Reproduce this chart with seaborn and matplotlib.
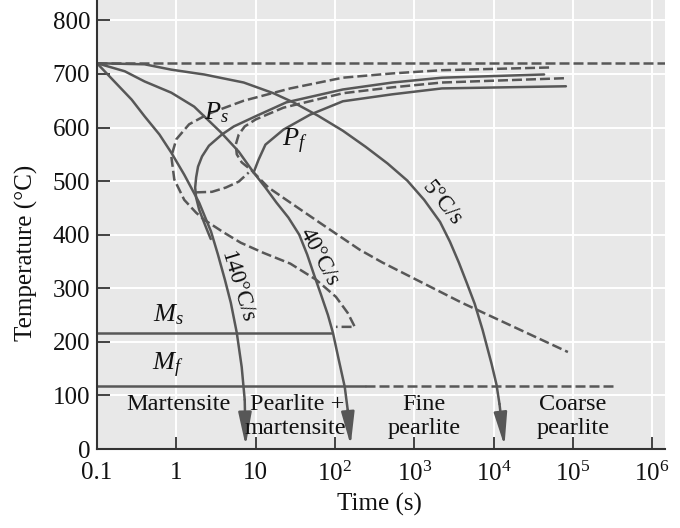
import matplotlib
matplotlib.use("Agg")
import matplotlib.pyplot as plt
import seaborn as sns

# ----------------------------
# values (time in s, temperature in °C)
# ----------------------------
eutectoid_T = 720
ms_T = 217
mf_T = 118
ms_end_t = 90
mf_solid_end_t = 237
mf_dashed_end_t = 344700
x_right = 1.45e6

rate_140_t = [0.1, 0.274, 0.398, 0.613, 0.866, 1.26, 1.94, 2.74, 3.35, 4.10, 4.87, 5.79, 6.68, 7.29, 7.5]
rate_140_T = [720, 652, 621, 587, 553, 512, 460, 406, 363, 316, 273, 217, 153, 92, 6]

rate_40_t = [0.1, 0.224, 0.398, 0.866, 1.68, 3.65, 6.13, 9.44, 13.3, 18.3, 25.9, 35.5,
             44.7, 54.6, 66.8, 81.7, 94.4, 112, 133, 145, 158]
rate_40_T = [720, 705, 686, 665, 639, 591, 555, 516, 488, 460, 432, 400,
             363, 325, 288, 250, 217, 166, 116, 73, 7]

rate_5_t = [0.1, 0.398, 0.866, 2.24, 7.08, 16.8, 29.9, 61.3, 126, 244, 460, 817, 1334,
            2113, 2818, 3652, 4597, 5788, 7286, 9441, 10900, 11885, 13725]
rate_5_T = [720, 718, 708, 699, 684, 664, 647, 622, 594, 564, 533, 501, 465,
            424, 387, 348, 310, 271, 222, 159, 120, 84, 6]

# TTT start (dashed)
ttt_start_t = [50100, 2239, 531, 126, 27.4, 7.08, 2.58, 1.45, 1.0, 0.866, 0.944, 1.26, 1.78,
               2.24, 3.98, 6.49, 12.6, 27.4, 57.9, 103, 145, 178, 103]
ttt_start_T = [712, 707, 701, 693, 673, 650, 626, 606, 578, 546, 503, 465, 441,
               428, 404, 385, 366, 346, 316, 284, 254, 228, 228]

# CCT start (solid)
cct_start_t = [43400, 2239, 531, 126, 24.4, 10, 5.31, 3.76, 2.58, 2.11, 1.88, 1.78, 1.73,
               1.78, 1.94, 2.17, 2.44, 2.72]
cct_start_T = [699, 693, 684, 671, 647, 621, 602, 587, 566, 546, 527, 507, 488,
               469, 447, 428, 409, 392]

# TTT finish (dashed)
ttt_finish_t = [77200, 2239, 531, 126, 22.4, 10, 7.29, 6.13, 5.62, 5.79, 6.68, 8.91,
                14.5, 24.4, 64.9, 205, 398, 3981, 86600]
ttt_finish_T = [692, 684, 675, 664, 637, 615, 602, 587, 568, 550, 535, 520,
                488, 465, 422, 372, 348, 273, 181]

# CCT finish (solid)
cct_finish_t = [81700, 2239, 531, 126, 48.7, 22.4, 13.3, 10.9, 9.44]
cct_finish_T = [677, 673, 662, 649, 624, 596, 568, 540, 516]

# dashed arc under the noses
arc_t = [1.78, 2.82, 4.22, 6.13, 8.18]
arc_T = [479, 480, 488, 499, 516]

x_ticks = [0.1, 1, 10, 100, 1e3, 1e4, 1e5, 1e6]
x_tick_labels = ["0.1", "1", "10", "$10^2$", "$10^3$", "$10^4$", "$10^5$", "$10^6$"]
y_ticks = [0, 100, 200, 300, 400, 500, 600, 700, 800]

# ----------------------------
# style
# ----------------------------
sns.set_theme(style="darkgrid", rc={"axes.facecolor": "#e8e8e8", "grid.color": "white",
                                    "grid.linewidth": 1.4})
plt.rcParams["font.family"] = ["Liberation Serif", "DejaVu Serif"]
plt.rcParams["mathtext.fontset"] = "custom"
plt.rcParams["mathtext.rm"] = "Liberation Serif"
plt.rcParams["mathtext.it"] = "Liberation Serif:italic"
plt.rcParams["mathtext.bf"] = "Liberation Serif:bold"

LC = "#575757"
LW = 1.8
DASH = (0, (4, 1.6))
FS = 17.5

fig = plt.figure(figsize=(6.8, 5.28), dpi=100)
ax = fig.add_axes([0.1426, 0.1496, 0.8353, 0.8504])
ax.set_xscale("log")


def curve(t, T, dashed=False):
    sns.lineplot(x=t, y=T, sort=False, estimator=None, color=LC, lw=LW,
                 linestyle=DASH if dashed else "-", ax=ax)


def arrow_curve(t, T):
    curve(t[:-1], T[:-1])
    ax.annotate("", xy=(t[-1], T[-1]), xytext=(t[-2], T[-2]),
                arrowprops=dict(arrowstyle="-|>,head_length=2.0,head_width=0.4",
                                color=LC, lw=LW, shrinkA=0, shrinkB=0, mutation_scale=10))


# horizontal lines
curve([0.1, x_right], [eutectoid_T, eutectoid_T], dashed=True)
curve([0.1, ms_end_t], [ms_T, ms_T])
curve([0.1, mf_solid_end_t], [mf_T, mf_T])
curve([mf_solid_end_t, mf_dashed_end_t], [mf_T, mf_T], dashed=True)

# transformation curves
curve(ttt_start_t, ttt_start_T, dashed=True)
curve(ttt_finish_t, ttt_finish_T, dashed=True)
curve(arc_t, arc_T, dashed=True)
curve(cct_start_t, cct_start_T)
curve(cct_finish_t, cct_finish_T)

# cooling curves
arrow_curve(rate_140_t, rate_140_T)
arrow_curve(rate_40_t, rate_40_T)
arrow_curve(rate_5_t, rate_5_T)

# labels
txt = dict(color="#111111", fontsize=FS)
ax.text(3.25, 615, "$P_s$", ha="center", va="baseline", fontsize=19, color="#111111")
ax.text(30.8, 564, "$P_f$", ha="center", va="baseline", fontsize=19, color="#111111")
ax.text(0.79, 239, "$M_s$", ha="center", va="baseline", fontsize=19, color="#111111")
ax.text(0.77, 146, "$M_f$", ha="center", va="baseline", fontsize=19, color="#111111")

ax.text(1.06, 73, "Martensite", ha="center", va="baseline", **txt)
ax.text(33, 73, "Pearlite +", ha="center", va="baseline", **txt)
ax.text(32, 28, "martensite", ha="center", va="baseline", **txt)
ax.text(1334, 73, "Fine", ha="center", va="baseline", **txt)
ax.text(1334, 28, "pearlite", ha="center", va="baseline", **txt)
ax.text(1e5, 73, "Coarse", ha="center", va="baseline", **txt)
ax.text(1e5, 28, "pearlite", ha="center", va="baseline", **txt)

rot = dict(color="#111111", fontsize=16.5, ha="center", va="center", rotation_mode="anchor")
ax.text(5.9, 303, "140°C/s", rotation=-73, **rot)
ax.text(63, 359, "40°C/s", rotation=-62, **rot)
ax.text(2200, 458, "5°C/s", rotation=-51, **rot)

# axes
ax.set_xlim(0.1, x_right)
ax.set_ylim(0, 838)
ax.set_xticks(x_ticks)
ax.set_xticklabels(x_tick_labels)
ax.xaxis.set_minor_locator(matplotlib.ticker.NullLocator())
ax.set_yticks(y_ticks)
ax.set_yticklabels([str(v) for v in y_ticks])
ax.tick_params(axis="both", which="major", direction="in", length=9, width=1.3,
               color="#333333", labelsize=18, labelcolor="#111111",
               bottom=True, left=True, pad=5)
ax.tick_params(axis="x", pad=9)
ax.grid(True, which="major", color="white", lw=1.4)
for side in ["top", "right"]:
    ax.spines[side].set_visible(False)
for side in ["left", "bottom"]:
    ax.spines[side].set_visible(True)
    ax.spines[side].set_color("#333333")
    ax.spines[side].set_linewidth(1.5)

ax.set_xlabel("Time (s)", fontsize=18, color="#111111")
ax.set_ylabel("Temperature (°C)", fontsize=18, color="#111111")
ax.xaxis.set_label_coords(0.498, -0.097)
ax.yaxis.set_label_coords(-0.104, 0.437)

fig.savefig("out.png", dpi=100)
